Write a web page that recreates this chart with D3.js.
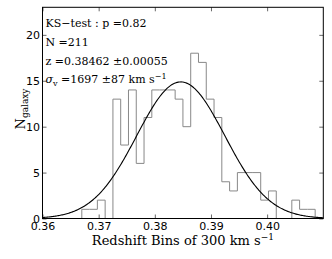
<!DOCTYPE html>
<html>
<head>
<meta charset="utf-8">
<script src="https://cdn.jsdelivr.net/npm/d3@7"></script>
<style>
  body { margin: 0; background: #fff; }
  #chart-container { width: 332px; height: 259px; }
  .tick text { font-family: "DejaVu Sans", sans-serif; font-size: 11px; fill: #000; }
  .serif { font-family: "DejaVu Serif", serif; fill: #000; }
</style>
</head>
<body>
<div id="chart-container"></div>
<script>
const chartContainer = document.getElementById("chart-container");

// histogram of redshifts, 300 km/s bins
const binStart = 0.367;
const binWidth = 0.001385;
const counts = [1, 1, 2, 0, 13, 8, 14, 6, 11, 14, 14, 14, 13, 10, 18, 17, 13, 11, 4, 3, 5, 5, 5, 2, 3, 0, 0, 2, 1, 1];

// fit parameters shown in the legend text
const zMean = 0.38462;
const sigmaV = 1697;
const nGal = 211;
const lightSpeed = 299792.458;

const xTicks = [0.36, 0.37, 0.38, 0.39, 0.4];
const yTicks = [0, 5, 10, 15, 20];

const width = 332;
const height = 259;
const margin = { top: 7.3, right: 8.7, bottom: 40.5, left: 42.5 };
const graphWidth = width - margin.left - margin.right;
const graphHeight = height - margin.top - margin.bottom;

const svg = d3
  .select(chartContainer)
  .append("svg")
  .attr("width", width)
  .attr("height", height);

const graph = svg
  .append("g")
  .attr("transform", `translate(${margin.left}, ${margin.top})`);

const x = d3.scaleLinear().domain([0.36, 0.41]).range([0, graphWidth]);
const y = d3.scaleLinear().domain([0, 23]).range([graphHeight, 0]);

// step outline of the histogram
const stepPts = [[binStart, 0]];
counts.forEach((c, i) => {
  const x0 = binStart + i * binWidth;
  stepPts.push([x0, c], [x0 + binWidth, c]);
});
stepPts.push([binStart + counts.length * binWidth, 0]);

graph
  .append("path")
  .datum(stepPts)
  .attr("fill", "none")
  .attr("stroke", "#888")
  .attr("stroke-width", 1)
  .attr("d", d3.line().x((d) => x(d[0])).y((d) => y(d[1])));

// gaussian fit from z and sigma_v
const sigmaZ = (sigmaV / lightSpeed) * (1 + zMean);
const amp = (nGal * binWidth) / (sigmaZ * Math.sqrt(2 * Math.PI));
const curve = d3.range(0, 301).map((i) => {
  const z = 0.36 + (i / 300) * 0.05;
  return [z, amp * Math.exp(-0.5 * ((z - zMean) / sigmaZ) ** 2)];
});

graph
  .append("path")
  .datum(curve)
  .attr("fill", "none")
  .attr("stroke", "#000")
  .attr("stroke-width", 1.1)
  .attr("d", d3.line().x((d) => x(d[0])).y((d) => y(d[1])));

// axes, ticks pointing inward
const gX = graph.append("g").attr("transform", `translate(0, ${graphHeight})`);
gX.call(d3.axisBottom(x).tickValues(xTicks).tickSize(-4).tickPadding(3.5).tickFormat(d3.format(".2f")));
const gY = graph.append("g");
gY.call(d3.axisLeft(y).tickValues(yTicks).tickSize(-4).tickPadding(2.5).tickFormat((d) => d));
const gTop = graph.append("g");
gTop.call(d3.axisTop(x).tickValues(xTicks).tickSize(-4).tickFormat(""));
const gRight = graph.append("g").attr("transform", `translate(${graphWidth}, 0)`);
gRight.call(d3.axisRight(y).tickValues(yTicks).tickSize(-4).tickFormat(""));

[gX, gY, gTop, gRight].forEach((g) => {
  g.select(".domain").remove();
  g.selectAll("line").attr("stroke", "#000").attr("stroke-width", 0.6);
});

graph
  .append("rect")
  .attr("width", graphWidth)
  .attr("height", graphHeight)
  .attr("fill", "none")
  .attr("stroke", "#000")
  .attr("stroke-width", 1);

// annotation text
const notes = graph.append("g").attr("class", "serif").style("font-size", "11px");
const l1 = notes.append("text").attr("x", 3).attr("y", 27 - margin.top);
l1.text("KS\u2212test : p =0.82");
notes.append("text").attr("x", 3).attr("y", 46 - margin.top).text("N =211");
notes.append("text").attr("x", 3).attr("y", 65 - margin.top).text("z =0.38462 \u00b10.00055");
const l4 = notes.append("text").attr("x", 3).attr("y", 83.3 - margin.top);
l4.append("tspan").style("font-style", "italic").text("\u03c3");
l4.append("tspan").attr("dy", 2.5).style("font-size", "8px").text("v");
l4.append("tspan").attr("dy", -2.5).text(" =1697 \u00b187 km s");
l4.append("tspan").attr("dy", -4.5).style("font-size", "8px").text("\u22121");

// axis labels
const xl = svg
  .append("text")
  .attr("class", "serif")
  .attr("x", margin.left + graphWidth / 2)
  .attr("y", 245)
  .attr("text-anchor", "middle")
  .style("font-size", "13px");
xl.append("tspan").text("Redshift Bins of 300 km s");
xl.append("tspan").attr("dy", -5).style("font-size", "9px").text("\u22121");

const yl = svg
  .append("text")
  .attr("class", "serif")
  .attr("transform", `translate(25, 109) rotate(-90)`)
  .attr("text-anchor", "middle")
  .style("font-size", "13px");
yl.append("tspan").text("N");
yl.append("tspan").attr("dy", 3).style("font-size", "9px").text("galaxy");
</script>
</body>
</html>
